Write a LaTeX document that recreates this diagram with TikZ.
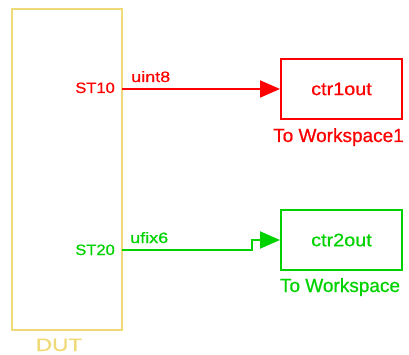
\documentclass[tikz,border=0pt]{standalone}
\usepackage{fontspec}
\setmainfont{Liberation Sans}[FakeBold=0.7]
\newfontfamily\stA[FakeStretch=1.1,FakeBold=0.7]{Liberation Sans}
\newfontfamily\stB[FakeStretch=1.2,FakeBold=0.7]{Liberation Sans}
\newfontfamily\stC[FakeStretch=1.25,FakeBold=0.7]{Liberation Sans}
\newfontfamily\stD[FakeBold=0.7]{Liberation Sans}
\usetikzlibrary{arrows.meta}
\definecolor{sred}{RGB}{255,0,0}
\definecolor{sgreen}{RGB}{0,210,0}
\definecolor{sgold}{RGB}{240,218,120}
\tikzset{
  portlbl/.style={anchor=base east, inner sep=0pt, font=\stA\fontsize{15}{18}\selectfont},
  siglbl/.style={anchor=base west, inner sep=0pt, font=\stB\fontsize{15}{18}\selectfont},
  blocklbl/.style={anchor=base, inner sep=0pt, font=\stD\fontsize{19}{22}\selectfont},
  wsblock/.style={draw, line width=2pt, minimum width=121pt, minimum height=60pt, inner sep=0pt, font=\stA\fontsize{18}{21}\selectfont},
  sig/.style={line width=2pt, -{Triangle[length=20pt,width=17pt]}},
}
\begin{document}
\begin{tikzpicture}[x=1pt,y=-1pt]
\useasboundingbox (0,0) rectangle (409,355);
\node[draw=sgold, line width=2pt, minimum width=110pt, minimum height=321pt, inner sep=0pt] (dut) at (67,169.5) {};
\node[anchor=base, inner sep=0pt, text=sgold, font=\stC\fontsize{18}{21}\selectfont] (dutl) at (59,351) {DUT};
\coordinate (p1) at (122,89);
\coordinate (p2) at (122,250);
\coordinate (k) at (252,250);
\node[wsblock, draw=sred, text=sred] (ctr1) at (341.5,89) {ctr1out};
\node[wsblock, draw=sgreen, text=sgreen] (ctr2) at (341.5,240) {ctr2out};
\node[blocklbl, text=sred] (ws1) at (338.5,142) {To Workspace1};
\node[blocklbl, text=sgreen] (ws2) at (340,292) {To Workspace};
\node[portlbl, text=sred] (st10) at (115,93) {ST10};
\node[portlbl, text=sgreen] (st20) at (115,255) {ST20};
\node[siglbl, text=sred] (u8) at (131,82) {uint8};
\node[siglbl, text=sgreen] (uf6) at (130,243) {ufix6};
\draw[sig, sred] (p1) -- (ctr1.west);
\draw[sig, sgreen] (p2) -- (k) |- (ctr2.west);
\end{tikzpicture}
\end{document}
